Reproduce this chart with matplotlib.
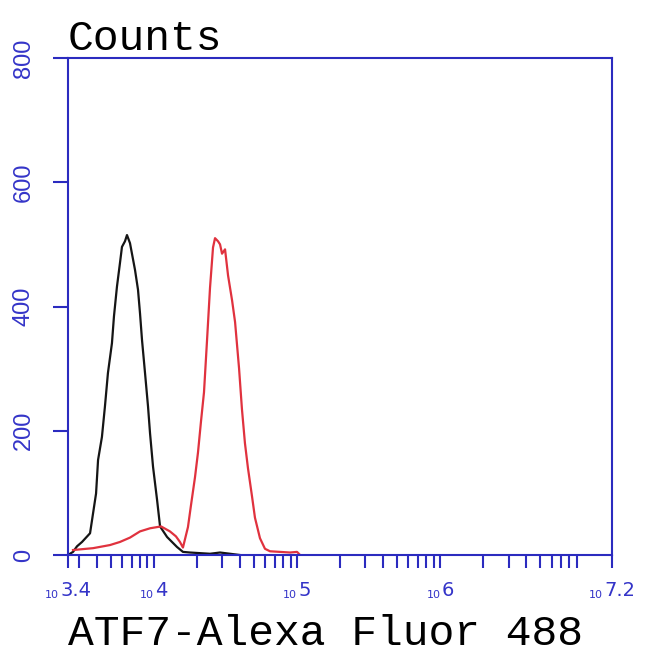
import numpy as np
import matplotlib
matplotlib.use("Agg")
import matplotlib.pyplot as plt
from matplotlib.ticker import FixedLocator, NullFormatter
from matplotlib.offsetbox import TextArea, HPacker, AnnotationBbox

# log10 of fluorescence intensity and counts
black_log = [3.414, 3.435, 3.463, 3.498, 3.554, 3.575, 3.596, 3.610, 3.637, 3.658,
             3.679, 3.707, 3.721, 3.742, 3.763, 3.777, 3.798, 3.812, 3.833, 3.868,
             3.889, 3.903, 3.917, 3.938, 3.959, 3.973, 3.994, 4.022, 4.043, 4.092,
             4.161, 4.203, 4.252, 4.322, 4.392, 4.462, 4.532, 4.601]
black_counts = [2, 5, 14, 21, 35, 67, 99, 153, 190, 239,
                293, 341, 384, 432, 470, 496, 505, 515, 502, 459,
                427, 389, 346, 293, 239, 196, 142, 89, 46, 29,
                13, 5, 4, 3, 2, 4, 2, 0]

red_log = [3.435, 3.575, 3.693, 3.763, 3.833, 3.903, 3.973, 4.050, 4.112, 4.154,
           4.182, 4.203, 4.238, 4.259, 4.287, 4.308, 4.329, 4.350, 4.371, 4.392,
           4.413, 4.427, 4.448, 4.462, 4.476, 4.497, 4.518, 4.546, 4.567, 4.595,
           4.615, 4.636, 4.657, 4.685, 4.706, 4.741, 4.776, 4.811, 4.881, 4.951,
           5.000, 5.021]
red_counts = [8, 11, 16, 21, 28, 38, 43, 46, 38, 30,
              21, 12, 45, 80, 125, 165, 215, 262, 345, 430,
              495, 510, 505, 500, 485, 492, 450, 410, 375, 300,
              235, 180, 140, 95, 60, 27, 10, 6, 5, 4,
              5, 0]

x_major = [3.4, 4, 5, 6, 7.2]
x_major_labels = ["3.4", "4", "5", "6", "7.2"]
y_ticks = [0, 200, 400, 600, 800]

blue = "#2b2bbf"
label_blue = "#3434c8"

fig = plt.figure(figsize=(6.5, 6.54), dpi=100)
ax = fig.add_axes([68/650, 1 - 555/654, 544/650, 497/654])

ax.plot(10**np.array(black_log), black_counts, color="#151515", lw=1.6)
ax.plot(10**np.array(red_log), red_counts, color="#e0323e", lw=1.6)

ax.set_xscale("log")
ax.set_xlim(10**3.4, 10**7.2)
ax.set_ylim(0, 800)

for s in ax.spines.values():
    s.set_color(blue)
    s.set_linewidth(1.5)

# x ticks: majors + minors at 2..9 x 10^k, labels drawn by hand below
ax.xaxis.set_major_locator(FixedLocator([10**v for v in x_major]))
ax.xaxis.set_major_formatter(NullFormatter())
minors = [m * 10**k for k in range(3, 8) for m in range(2, 10)
          if 10**3.4 < m * 10**k < 10**7.2]
ax.xaxis.set_minor_locator(FixedLocator(minors))
ax.xaxis.set_minor_formatter(NullFormatter())
ax.tick_params(axis="x", which="both", direction="out", length=9, width=1.5,
               color=blue)

for v, t in zip(x_major, x_major_labels):
    base = TextArea("10", textprops=dict(fontsize=8, color=label_blue))
    expo = TextArea(t, textprops=dict(fontsize=14, color=label_blue))
    box = HPacker(children=[base, expo], align="bottom", pad=0, sep=1)
    ab = AnnotationBbox(box, (10**v, 0), xycoords=("data", "axes fraction"),
                        xybox=(0, -19), boxcoords="offset points",
                        box_alignment=(0.5, 1), frameon=False, annotation_clip=False)
    ax.add_artist(ab)

ax.set_yticks(y_ticks)
ax.tick_params(axis="y", direction="out", length=11, width=1.5, color=blue,
               labelcolor=label_blue, labelsize=17, pad=13)
for lbl in ax.get_yticklabels():
    lbl.set_rotation(90)
    lbl.set_va("center")
    lbl.set_family("Liberation Sans")

fig.text(68/650, 1 - 50/654, "Counts", family="Liberation Mono", fontsize=31,
         color="black", va="baseline", ha="left")
fig.text(68/650, 1 - 645/654, "ATF7-Alexa Fluor 488", family="Liberation Mono",
         fontsize=31, color="black", va="baseline", ha="left")

fig.savefig("out.png", dpi=100)
